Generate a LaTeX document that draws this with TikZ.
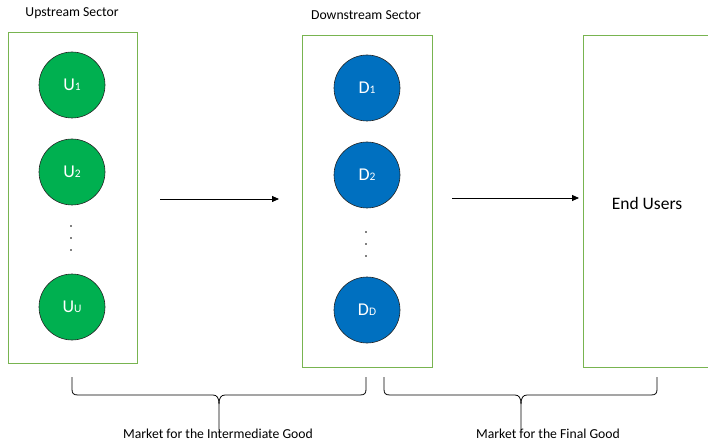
\documentclass[tikz,border=0pt]{standalone}
\usepackage{fontspec}
\setmainfont{Carlito}
\usetikzlibrary{arrows.meta}
\definecolor{boxgreen}{RGB}{120,180,80}
\definecolor{firmgreen}{RGB}{0,176,80}
\definecolor{firmblue}{RGB}{0,112,192}
\newcommand\firmidx[1]{{\fontsize{11.5}{11.5}\selectfont #1}}
\begin{document}
\begin{tikzpicture}[x=1pt,y=-1pt,
  sector/.style={draw=boxgreen,line width=0.9pt},
  firm/.style={circle,draw=black!85,line width=0.6pt,minimum size=66pt,inner sep=0pt,
    text=white,font=\fontsize{18}{20}\selectfont},
  upfirm/.style={firm,fill=firmgreen},
  downfirm/.style={firm,fill=firmblue},
  flow/.style={-{Triangle[length=7pt,width=6pt]},line width=0.8pt},
  vdot/.style={circle,fill=black,inner sep=0pt,minimum size=1.8pt},
  bracepath/.style={line width=0.8pt},
  lbl/.style={font=\fontsize{13.7}{16}\selectfont}]
\useasboundingbox (0,0) rectangle (708,443);

% sector boxes
\draw[sector] (8,32) rectangle (137,363);
\draw[sector] (302,35) rectangle (432,367);
\draw[sector] (712,35) -- (583,35) -- (583,367) -- (712,367);

% titles
\node[lbl] (uptitle) at (72,13) {Upstream Sector};
\node[lbl] (downtitle) at (366,15) {Downstream Sector};
\node[font=\fontsize{17.5}{20}\selectfont] (end) at (647,203) {End Users};

% upstream firms
\node[upfirm] (u1) at (72,85) {U\firmidx{1}};
\node[upfirm] (u2) at (72,172) {U\firmidx{2}};
\node[upfirm] (uu) at (72,307) {U\firmidx{U}};
\node[vdot] (ud1) at (71,226) {};
\node[vdot] (ud2) at (71,238) {};
\node[vdot] (ud3) at (71,250) {};

% downstream firms
\node[downfirm] (d1) at (367,88) {D\firmidx{1}};
\node[downfirm] (d2) at (367,175) {D\firmidx{2}};
\node[downfirm] (dd) at (367,310) {D\firmidx{D}};
\node[vdot] (dd1) at (366,232) {};
\node[vdot] (dd2) at (366,244) {};
\node[vdot] (dd3) at (366,256) {};

% flows between sectors
\coordinate (a1s) at (160,199);
\coordinate (a1e) at (279,199);
\coordinate (a2s) at (452,198);
\coordinate (a2e) at (579,198);
\draw[flow] (a1s) -- (a1e);
\draw[flow] (a2s) -- (a2e);

% market braces
\draw[bracepath] (72,377) -- (72,389) .. controls (72,393) and (73,395) .. (78,395)
  -- (213,395) .. controls (217,395) and (219,398) .. (219,404) -- (219,430);
\draw[bracepath] (366,377) -- (366,389) .. controls (366,393) and (365,395) .. (360,395)
  -- (225,395) .. controls (221,395) and (219,398) .. (219,404);
\draw[bracepath] (384,377) -- (384,389) .. controls (384,393) and (385,395) .. (390,395)
  -- (515,395) .. controls (519,395) and (521,398) .. (521,404) -- (521,430);
\draw[bracepath] (657,377) -- (657,389) .. controls (657,393) and (656,395) .. (651,395)
  -- (527,395) .. controls (523,395) and (521,398) .. (521,404);

\node[lbl] (mint) at (218,434) {Market for the Intermediate Good};
\node[lbl] (mfin) at (548,434) {Market for the Final Good};
\end{tikzpicture}
\end{document}
